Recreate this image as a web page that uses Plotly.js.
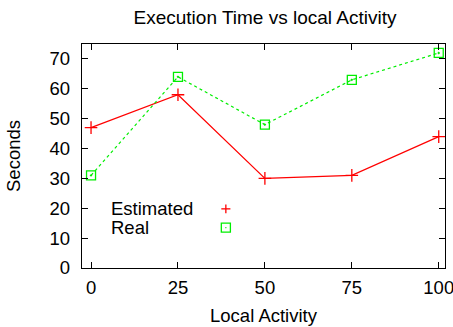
<!DOCTYPE html>
<html>
<head>
<meta charset="utf-8">
<script src="https://cdn.plot.ly/plotly-3.0.1.min.js"></script>
<style>html,body{margin:0;padding:0;background:#fff;}#chart{width:453px;height:327px;}</style>
</head>
<body>
<div id="chart"></div>
<script>
var localActivity = [0, 25, 50, 75, 100];
var estimated = [47, 58, 30, 31, 44];
var real = [31, 64, 48, 63, 72];
var xTicks = [0, 25, 50, 75, 100];
var yTicks = [0, 10, 20, 30, 40, 50, 60, 70];
var seriesNames = ["Estimated", "Real"];

var FONT = "Liberation Sans, Arial, Helvetica, sans-serif";
var FS = 18.5;
var RED = "#ff0000";
var GREEN = "#00ee00";

var traces = [
  {
    x: localActivity, y: estimated, name: seriesNames[0], type: "scatter", mode: "lines+markers",
    line: {color: RED, width: 1.2},
    marker: {symbol: "cross-thin-open", size: 9, color: RED, line: {color: RED, width: 1.3}},
    showlegend: false, cliponaxis: false
  },
  {
    x: localActivity, y: real, name: seriesNames[1], type: "scatter", mode: "lines+markers",
    line: {color: GREEN, width: 1.2, dash: "dot"},
    marker: {symbol: "square-dot", size: 9, color: "rgba(0,0,0,0)", line: {color: GREEN, width: 1.3}},
    showlegend: false, cliponaxis: false
  }
];

var axisCommon = {
  showgrid: false, zeroline: false, showline: true, mirror: "ticks",
  linecolor: "#000", linewidth: 1.3, ticks: "inside", ticklen: 6, tickwidth: 1,
  tickcolor: "#000", tickfont: {family: FONT, size: FS, color: "#000"},
  ticklabeloverflow: "allow", automargin: false
};

var layout = {
  width: 453, height: 327,
  margin: {l: 82, r: 8, t: 44, b: 59},
  paper_bgcolor: "#fff", plot_bgcolor: "#fff",
  title: {text: "Execution Time vs local Activity", font: {family: FONT, size: 19, color: "#000"},
          x: 0.585, xanchor: "center", y: 0.948, yanchor: "middle"},
  xaxis: Object.assign({}, axisCommon, {
    range: [-2.6, 101.8], tickvals: xTicks, ticktext: xTicks.map(String),
    title: {text: "Local Activity", font: {family: FONT, size: FS, color: "#000"}, standoff: 12},
    ticklabelstandoff: 2
  }),
  yaxis: Object.assign({}, axisCommon, {
    range: [0, 75], tickvals: yTicks, ticktext: yTicks.map(String),
    title: {text: "Seconds", font: {family: FONT, size: FS, color: "#000"}, standoff: 24},
    ticklabelstandoff: 7
  }),
  annotations: [
    {xref: "paper", yref: "paper", x: 0.074, y: 0.264, xanchor: "left", yanchor: "middle",
     text: seriesNames[0], showarrow: false, font: {family: FONT, size: FS, color: "#000"}},
    {xref: "paper", yref: "paper", x: 0.074, y: 0.18, xanchor: "left", yanchor: "middle",
     text: seriesNames[1], showarrow: false, font: {family: FONT, size: FS, color: "#000"}}
  ],
  shapes: [
    {type: "line", xref: "paper", yref: "paper", x0: 0.3838, x1: 0.4088, y0: 0.264, y1: 0.264, line: {color: RED, width: 1.3}},
    {type: "line", xref: "paper", yref: "paper", x0: 0.3963, x1: 0.3963, y0: 0.244, y1: 0.284, line: {color: RED, width: 1.3}},
    {type: "rect", xref: "paper", yref: "paper", x0: 0.3838, x1: 0.4088, y0: 0.160, y1: 0.200, line: {color: GREEN, width: 1.3}},
    {type: "line", xref: "paper", yref: "paper", x0: 0.3948, x1: 0.3978, y0: 0.180, y1: 0.180, line: {color: GREEN, width: 1.3}}
  ]
};

Plotly.newPlot("chart", traces, layout, {displayModeBar: false, staticPlot: true});
</script>
</body>
</html>
